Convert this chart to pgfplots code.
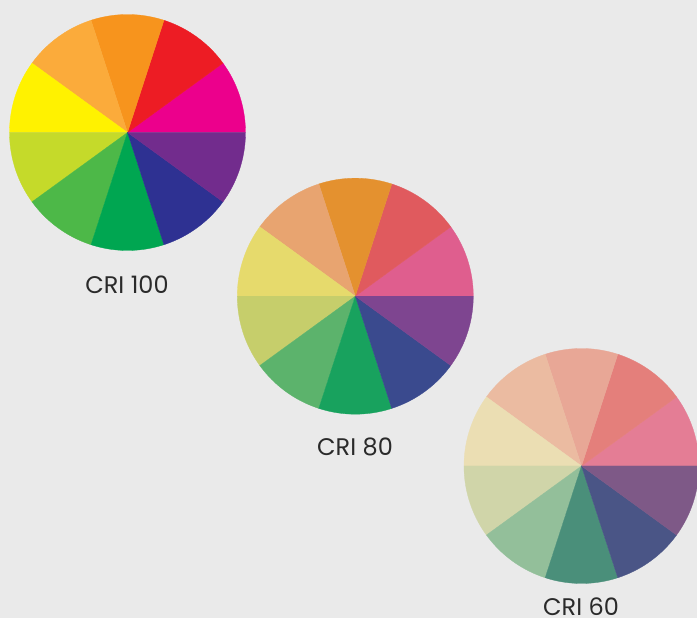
\documentclass[border=0pt]{standalone}
\usepackage{pgfplots}
\pgfplotsset{compat=1.18}
\usepackage{fontspec}
\setmainfont{Poppins}
\definecolor{bgc}{HTML}{EAEAEA}
\definecolor{txt}{HTML}{2A2A2A}
% CRI 100 (from 0 deg, counter-clockwise)
\definecolor{a0}{HTML}{EC008C}\definecolor{a1}{HTML}{ED1C24}\definecolor{a2}{HTML}{F7941D}
\definecolor{a3}{HTML}{FBAB3B}\definecolor{a4}{HTML}{FFF200}\definecolor{a5}{HTML}{C5DA2A}
\definecolor{a6}{HTML}{4DB848}\definecolor{a7}{HTML}{00A651}\definecolor{a8}{HTML}{2E3192}
\definecolor{a9}{HTML}{722C8D}
% CRI 80
\definecolor{b0}{HTML}{DF5E8E}\definecolor{b1}{HTML}{E05A5E}\definecolor{b2}{HTML}{E4912F}
\definecolor{b3}{HTML}{E8A470}\definecolor{b4}{HTML}{E6DA6C}\definecolor{b5}{HTML}{C6CE6B}
\definecolor{b6}{HTML}{5CB36C}\definecolor{b7}{HTML}{18A25E}\definecolor{b8}{HTML}{3A4A8E}
\definecolor{b9}{HTML}{7E4590}
% CRI 60
\definecolor{c0}{HTML}{E47D95}\definecolor{c1}{HTML}{E47F7B}\definecolor{c2}{HTML}{E8A796}
\definecolor{c3}{HTML}{EBBBA1}\definecolor{c4}{HTML}{EBDEB3}\definecolor{c5}{HTML}{D0D5A9}
\definecolor{c6}{HTML}{93BF9A}\definecolor{c7}{HTML}{4A8F7A}\definecolor{c8}{HTML}{4A5586}
\definecolor{c9}{HTML}{7E5987}
% one wedge: colour, start angle, end angle, centre x, centre y, radius
\newcommand\piewedge[6]{%
  \addplot[fill=#1, draw=#1, line width=0.3pt, domain=#2:#3, samples=30, variable=\t]
    ({#4+#6*cos(\t)},{#5+#6*sin(\t)}) -- (axis cs:#4,#5) -- cycle;}
% ten equal shares (10 % each -> 36 degrees)
\newcommand\pie[4]{%
  \piewedge{#10}{0}{36}{#2}{#3}{#4}\piewedge{#11}{36}{72}{#2}{#3}{#4}%
  \piewedge{#12}{72}{108}{#2}{#3}{#4}\piewedge{#13}{108}{144}{#2}{#3}{#4}%
  \piewedge{#14}{144}{180}{#2}{#3}{#4}\piewedge{#15}{180}{216}{#2}{#3}{#4}%
  \piewedge{#16}{216}{252}{#2}{#3}{#4}\piewedge{#17}{252}{288}{#2}{#3}{#4}%
  \piewedge{#18}{288}{324}{#2}{#3}{#4}\piewedge{#19}{324}{360}{#2}{#3}{#4}}
\begin{document}
\begin{tikzpicture}
\begin{axis}[
  x=1pt, y=1pt, xmin=0, xmax=697, ymin=0, ymax=618,
  axis line style={draw=none}, ticks=none,
  axis background/.style={fill=bgc},
  clip=true,
]
\pie{a}{127.5}{485.5}{118}
\pie{b}{355.3}{321.8}{118}
\pie{c}{581.5}{152}{117.5}
\node[anchor=base, text=txt, font=\fontsize{24}{26}\selectfont, inner sep=0pt] at (axis cs:127,324.7) {CRI 100};
\node[anchor=base, text=txt, font=\fontsize{24}{26}\selectfont, inner sep=0pt] at (axis cs:355,162.3) {CRI 80};
\node[anchor=base, text=txt, font=\fontsize{24}{26}\selectfont, inner sep=0pt] at (axis cs:581,2) {CRI 60};
\end{axis}
\pgfresetboundingbox
\path (current axis.south west) rectangle (current axis.north east);
\end{tikzpicture}
\end{document}
